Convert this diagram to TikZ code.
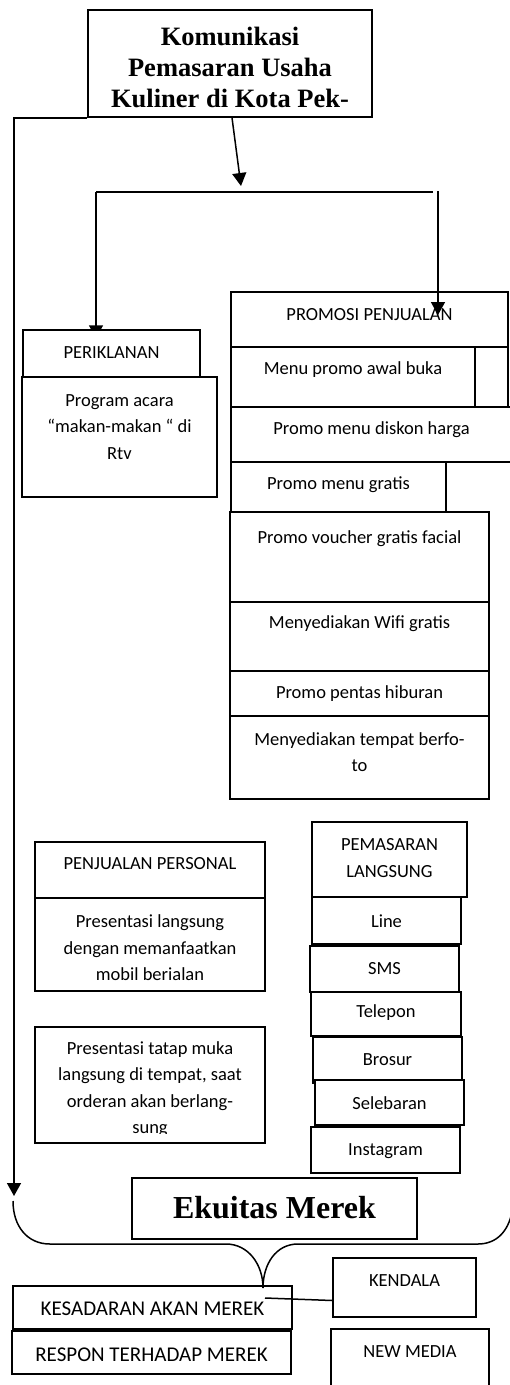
\documentclass[tikz,border=0pt]{standalone}
\usepackage{fontspec}
\setmainfont{Carlito}
\newfontfamily\serifjudul{Liberation Serif}
\usetikzlibrary{arrows.meta,backgrounds}
% box from (x1,y1) to (x2,y2), text centred at height ty
\newcommand{\kotak}[8][]{
	\node[kotak, minimum width={#5-#3}, minimum height={#6-#4}] (#2) at ({(#3+#5)/2},{(#4+#6)/2}) {};
	\node[isi,#1] (#2-isi) at ({(#3+#5)/2},#7) {#8};
	}

\begin{document}
\begin{tikzpicture}[
      x=1pt, y=-1pt, %pixel grid, y downwards
      kotak/.style={draw, line width=1.5pt, fill=white, inner sep=0pt},
      isi/.style={font=\fontsize{18.5}{26.5}\selectfont, align=center, inner sep=0pt},
      besar/.style={font=\fontsize{21}{26}\selectfont},
      garis/.style={line width=1.5pt},
      panah/.style={line width=1.5pt, -{Triangle[length=13pt,width=14pt]}}
    ]
    \useasboundingbox (0,0) rectangle (509,1385);
    % title
    \node[kotak, minimum width=284, minimum height=107] (judul) at (230,63.5) {};
    \node[isi, font=\serifjudul\bfseries\fontsize{26.5}{31}\selectfont] (judul-isi) at (230,67) {Komunikasi\\Pemasaran Usaha\\Kuliner di Kota Pek-};
    % periklanan
    \kotak{iklan}{23}{330}{200}{377}{353}{PERIKLANAN}
    \kotak{acara}{22}{377}{217}{497}{427}{Program acara\\“makan-makan “ di\\Rtv}
    % promosi penjualan
    \kotak{promosi}{231}{292}{508}{347}{315}{PROMOSI PENJUALAN}
    \node[kotak, minimum width=277, minimum height=60] (awal-luar) at (369.5,377) {};
    \kotak{awal}{231}{347}{475}{407}{370}{Menu promo awal buka}
    \kotak{diskon}{231}{407}{512}{462}{430}{Promo menu diskon harga}
    \kotak{gratis}{231}{462}{446}{512}{485}{Promo menu gratis}
    \kotak{voucher}{230}{512}{489}{602}{539}{Promo voucher gratis facial}
    \kotak{wifi}{230}{602}{489}{671}{624}{Menyediakan Wifi gratis}
    \kotak{pentas}{230}{671}{489}{716}{694}{Promo pentas hiburan}
    \kotak{foto}{230}{716}{489}{799}{752}{Menyediakan tempat berfo-\\to}
    % penjualan personal
    \kotak{personal}{35}{842}{265}{898}{864}{PENJUALAN PERSONAL}
    \kotak{mobil}{35}{898}{265}{991}{948}{Presentasi langsung\\dengan memanfaatkan\\mobil berialan}
    \node[kotak, minimum width=230, minimum height=116] (tatap) at (150,1085) {};
    \begin{scope}
      \clip (35,1027) rectangle (265,1133);
      \node[isi] (tatap-isi) at (150,1089) {Presentasi tatap muka\\langsung di tempat, saat\\orderan akan berlang-\\sung};
    \end{scope}
    % pemasaran langsung
    \kotak{langsung}{312}{822}{467}{897}{858}{PEMASARAN\\LANGSUNG}
    \kotak{line}{312}{897}{461}{944}{921}{Line}
    \kotak{sms}{310}{946}{459}{992}{969}{SMS}
    \kotak{telepon}{311}{992}{461}{1036}{1013}{Telepon}
    \kotak{brosur}{313}{1037}{462}{1083}{1060}{Brosur}
    \kotak{selebaran}{315}{1080}{464}{1125}{1103}{Selebaran}
    \kotak{instagram}{311}{1127}{460}{1173}{1151}{Instagram}
    % ekuitas merek
    \node[kotak, minimum width=285, minimum height=61] (ekuitas) at (274.5,1208.5) {};
    \node[isi, font=\serifjudul\bfseries\fontsize{32}{38}\selectfont] (ekuitas-isi) at (274.5,1208) {Ekuitas Merek};
    \kotak[besar]{kesadaran}{13}{1286}{292}{1329}{1309}{KESADARAN AKAN MEREK}
    \kotak[besar]{respon}{12}{1331}{291}{1374}{1355}{RESPON TERHADAP MEREK}
    \kotak{kendala}{333}{1258}{476}{1317}{1281}{KENDALA}
    \kotak{newmedia}{331}{1329}{489}{1395}{1352}{NEW MEDIA}
    % connectors
    \coordinate (kiri-bawah) at (14,1196);
    \draw[panah] (judul.south west) -| (kiri-bawah);
    \coordinate (cabang) at (241,186);
    \draw[panah] ([xshift=2pt]judul.south) -- (cabang);
    \coordinate (bagi-kiri) at (96,192);
    \coordinate (bagi-kanan) at (433,192);
    \coordinate (turun-kanan) at (438,191);
    \coordinate (ujung-promo) at (438,315);
    \draw[garis] (bagi-kiri) -- (bagi-kanan);
    \draw[panah] (turun-kanan) -- (ujung-promo);
    \begin{pgfonlayer}{background}
      \draw[panah] (bagi-kiri) -- ([yshift=-9pt]bagi-kiri |- iklan.north);
    \end{pgfonlayer}
    % brace
    \coordinate (puncak) at (263,1288);
    \draw[garis] (13,1201) .. controls (13,1226) and (27,1244) .. (50,1244) -- (226,1244)
      .. controls (248,1244) and (263,1264) .. (puncak)
      .. controls (263,1264) and (276,1244) .. (298,1244) -- (478,1244)
      .. controls (496,1244) and (508,1232) .. (512,1212);
    \coordinate (sambung) at (265,1298);
    \draw[garis] (sambung) -- ([yshift=-13pt]kendala.west);
\end{tikzpicture}
\end{document}
